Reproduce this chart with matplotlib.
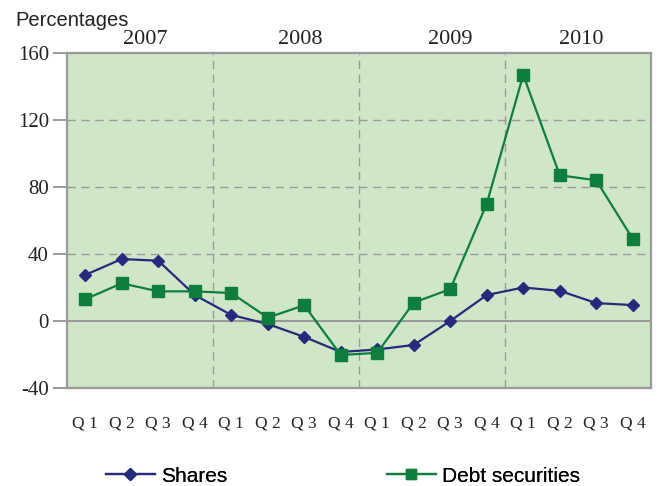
import numpy as np
import matplotlib
matplotlib.use("Agg")
import matplotlib.pyplot as plt

################################################################################
# data
years    = ["2007", "2008", "2009", "2010"]
quarters = ["Q 1", "Q 2", "Q 3", "Q 4"] * 4
shares   = [27.5, 37.0, 36.0, 15.5, 3.6, -1.8, -9.5, -18.5,
            -17.0, -14.3, 0.0, 15.5, 20.0, 18.0, 10.7, 9.5]
debt     = [13.0, 22.5, 17.7, 17.7, 16.7, 2.0, 9.4, -20.3,
            -19.0, 11.0, 19.0, 70.0, 147.0, 87.0, 84.0, 49.0]
yTicks   = [-40, 0, 40, 80, 120, 160]

################################################################################
bg     = "#d0e6c8"
grey   = "#9a9a9a"
navy   = "#262a7c"
green  = "#0e7d3e"
serif  = "Liberation Serif"
sans   = "Liberation Sans"
W, H   = 661, 486

fig = plt.figure(figsize=(6.61, 4.86), dpi=100)
ax = fig.add_axes([67/W, 98/H, 584/W, 335/H])
ax.set_facecolor(bg)

x = np.arange(len(shares))
ax.set_xlim(-0.5, len(shares) - 0.5)
ax.set_ylim(-40, 160)

# grid lines
for yv in [40, 80, 120]:
    ax.axhline(yv, color=grey, lw=1, ls=(0, (6, 4)), zorder=1)
for xv in [3.5, 7.5, 11.5]:
    ax.axvline(xv, color=grey, lw=1, ls=(0, (6, 4)), zorder=1)
ax.axhline(0, color=grey, lw=1.5, zorder=1)

l1, = ax.plot(x, shares, color=navy, lw=1.6, marker="D", ms=6, zorder=3)
l2, = ax.plot(x, debt, color=green, lw=1.6, marker="s", ms=8, zorder=4)

for s in ax.spines.values():
    s.set_color(grey)
    s.set_linewidth(1.6)

ax.set_yticks(yTicks)
ax.set_yticklabels([str(v) for v in yTicks], fontfamily=serif, fontsize=15)
ax.tick_params(axis="y", length=10, width=1.4, color=grey, pad=3, labelcolor="#222222")
ax.set_xticks(x)
ax.set_xticklabels(quarters, fontfamily=serif, fontsize=12.5)
ax.tick_params(axis="x", length=0, pad=20, labelcolor="#222222")

# year labels above the plot area
for pos, yr in zip([1.65, 5.9, 10.0, 13.6], years):
    ax.text(pos, 1.012, yr, transform=ax.get_xaxis_transform(), ha="center",
            va="bottom", fontfamily=serif, fontsize=16, color="#222222")

fig.text(15/W, 1 - 20/H, "Percentages", fontfamily=sans, fontsize=14.5,
         va="center", ha="left", color="#222222")

# legend, two entries placed separately
for line, lab, xpx in [(l1, "Shares", 106), (l2, "Debt securities", 387)]:
    leg = fig.legend([line], [lab], loc="center left",
                     bbox_to_anchor=(xpx/W, 1 - 476/H), frameon=False,
                     prop={"family": sans, "size": 15}, borderpad=0,
                     borderaxespad=0, handlelength=2.35, handletextpad=0.3)
    leg.legend_handles[0].set_markersize(6 if lab == "Shares" else 7)
    fig.add_artist(leg)

fig.savefig("out.png", dpi=100)
